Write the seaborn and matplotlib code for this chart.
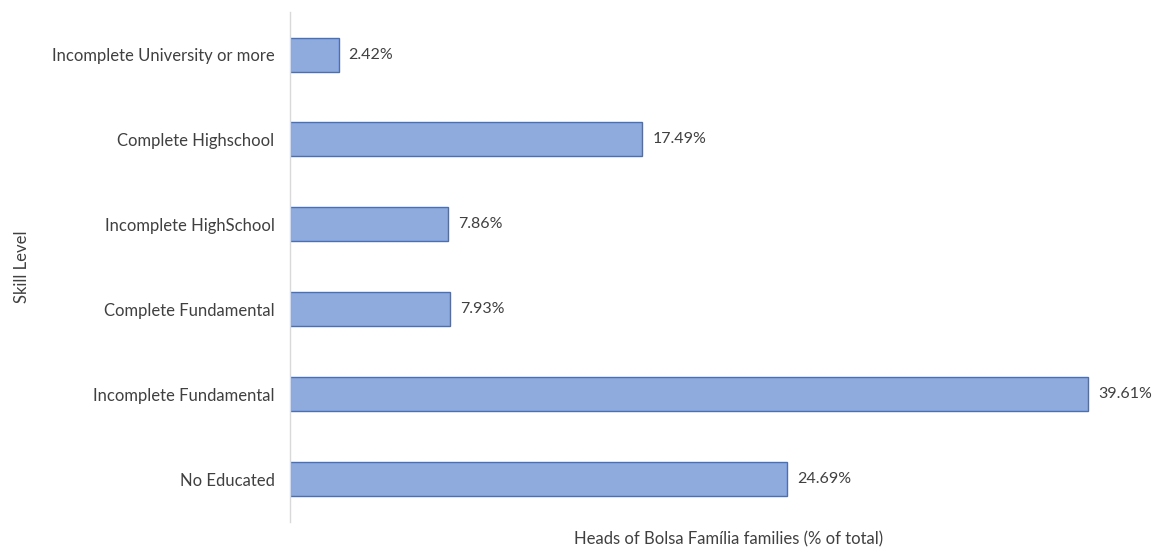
import matplotlib
matplotlib.use("Agg")
import matplotlib.pyplot as plt
import seaborn as sns
import pandas as pd

# Education level of heads of Bolsa Família families
levels = [
    "Incomplete University or more",
    "Complete Highschool",
    "Incomplete HighSchool",
    "Complete Fundamental",
    "Incomplete Fundamental",
    "No Educated",
]
shares = [2.42, 17.49, 7.86, 7.93, 39.61, 24.69]

df = pd.DataFrame({"level": levels, "share": shares})

sns.set_theme(style="white")
plt.rcParams["font.family"] = ["Lato", "DejaVu Sans"]
text_color = "#404040"
fs = 12

fig = plt.figure(figsize=(11.64, 5.47), dpi=100)
ax = fig.add_axes([0.249, 0.046, 0.739, 0.932])

sns.barplot(data=df, x="share", y="level", orient="h", order=levels,
            color="#8FAADC", edgecolor="#4A6FB5", linewidth=1.0,
            width=0.4, saturation=1, ax=ax)

for i, v in enumerate(shares):
    ax.text(v + 0.5, i, f"{v:.2f}%", va="center", ha="left",
            fontsize=fs - 0.5, color=text_color)

ax.set_xlim(0, 42.7)
ax.set_ylim(5.5, -0.5)
ax.set_xticks([])
ax.tick_params(axis="y", length=0, pad=11, labelsize=fs, labelcolor=text_color)
for s in ["top", "right", "bottom"]:
    ax.spines[s].set_visible(False)
ax.spines["left"].set_color("#d9d9d9")
ax.spines["left"].set_linewidth(1.0)

ax.set_xlabel("Heads of Bolsa Família families (% of total)", fontsize=fs,
              color=text_color)
ax.xaxis.set_label_coords(0.51, -0.018)
ax.set_ylabel("Skill Level", fontsize=fs, color=text_color)
ax.yaxis.set_label_coords(-0.302, 0.5)

fig.savefig("out.png", dpi=100, facecolor="white")
